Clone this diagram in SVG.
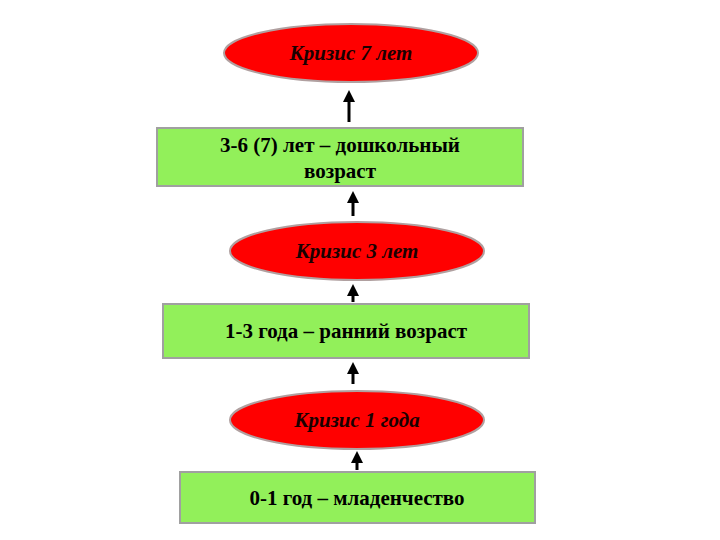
<svg xmlns="http://www.w3.org/2000/svg" width="720" height="540" viewBox="0 0 720 540">
<style>
.e{fill:#ff0000;stroke:#c0504d;stroke-width:2;stroke:#b0a0a0}
.r{fill:#92f05a;stroke:#a0a0a0;stroke-width:2}
.te{font-family:"Liberation Serif",serif;font-style:italic;font-weight:bold;font-size:21px;fill:#1a0000;text-anchor:middle}
.tr{font-family:"Liberation Serif",serif;font-weight:bold;font-size:21px;fill:#000;text-anchor:middle}
.c line{stroke:#000;stroke-width:3}
</style>
<defs><marker id="a" viewBox="0 0 10 10" refX="5" refY="5" markerWidth="4" markerHeight="4" orient="auto"><path d="M0,0L10,5L0,10z" fill="#000"/></marker></defs>
<rect width="720" height="540" fill="#fff"/>
<g id="n1"><ellipse class="e" cx="351" cy="53" rx="127" ry="29"/><text class="te" x="351" y="60">Кризис 7 лет</text></g>
<g id="n2"><rect class="r" x="157" y="128" width="366" height="58"/><text class="tr" x="340" y="152">3-6 (7) лет – дошкольный</text><text class="tr" x="340" y="178">возраст</text></g>
<g id="n3"><ellipse class="e" cx="357" cy="251" rx="127" ry="29"/><text class="te" x="357" y="258">Кризис 3 лет</text></g>
<g id="n4"><rect class="r" x="163" y="304" width="366" height="54"/><text class="tr" x="346" y="338">1-3 года – ранний возраст</text></g>
<g id="n5"><ellipse class="e" cx="357" cy="420" rx="127" ry="29"/><text class="te" x="357" y="427">Кризис 1 года</text></g>
<g id="n6"><rect class="r" x="180" y="472" width="355" height="51"/><text class="tr" x="357" y="505">0-1 год – младенчество</text></g>
<g class="c">
<line x1="349" y1="122" x2="349" y2="96" marker-end="url(#a)"/>
<line x1="353" y1="216" x2="353" y2="197" marker-end="url(#a)"/>
<line x1="353" y1="302" x2="353" y2="290" marker-end="url(#a)"/>
<line x1="353" y1="384" x2="353" y2="368" marker-end="url(#a)"/>
<line x1="357" y1="470" x2="357" y2="457" marker-end="url(#a)"/>
</g>
</svg>
